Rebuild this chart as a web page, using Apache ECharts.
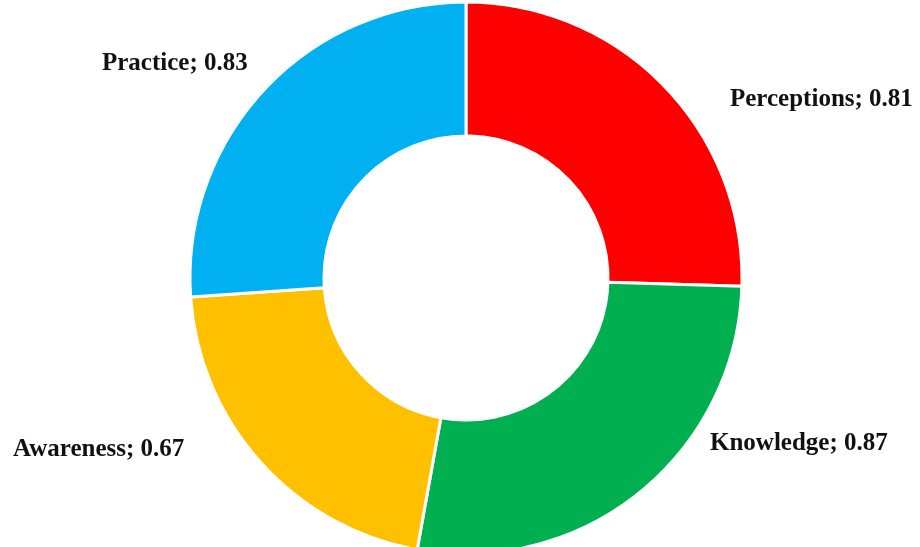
<!DOCTYPE html>
<html>
<head>
<meta charset="utf-8">
<script src="https://cdn.jsdelivr.net/npm/echarts@6/dist/echarts.min.js"></script>
<style>
  html, body { margin: 0; padding: 0; background: #fff; }
  #chart { width: 920px; height: 547px; }
</style>
</head>
<body>
<div id="chart"></div>
<script>
// 数据
const categories = ['Perceptions', 'Knowledge', 'Awareness', 'Practice']
const values = [0.81, 0.87, 0.67, 0.83]
const colors = ['#FF0000', '#00B050', '#FFC000', '#00B0F0']

// 标签位置（手动摆放，和原图一致）
const labelAnchors = [[730, 100], [710, 444], [13, 450], [102, 64]]

const chart = echarts.init(document.getElementById('chart'))

chart.setOption({
  animation: false,
  series: [
    {
      type: 'pie',
      center: [466, 278],
      radius: [142, 276],
      startAngle: 90,
      clockwise: true,
      avoidLabelOverlap: false,
      itemStyle: {
        borderColor: '#fff',
        borderWidth: 3
      },
      label: {
        show: true,
        position: 'outside',
        formatter: '{b}; {c}',
        fontFamily: '"Liberation Serif", "Times New Roman", serif',
        fontWeight: 'bold',
        fontSize: 25,
        color: '#111'
      },
      labelLine: { show: false },
      labelLayout: (params) => {
        const p = labelAnchors[params.dataIndex]
        return { x: p[0], y: p[1], align: 'left', verticalAlign: 'middle' }
      },
      data: categories.map((name, i) => ({
        name,
        value: values[i],
        itemStyle: { color: colors[i] }
      }))
    }
  ]
})
</script>
</body>
</html>
